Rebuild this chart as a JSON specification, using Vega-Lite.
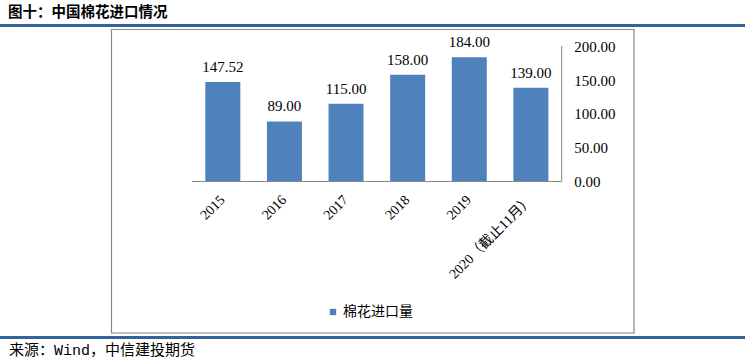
{
  "$schema": "https://vega.github.io/schema/vega-lite/v6.json",
  "width": 745,
  "height": 361,
  "padding": 0,
  "autosize": {"type": "none"},
  "background": "white",
  "config": {"view": {"stroke": null}, "font": "Liberation Serif"},
  "data": {
    "values": [
      {"year": "2015", "value": 147.52, "series": "棉花进口量"},
      {"year": "2016", "value": 89.0, "series": "棉花进口量"},
      {"year": "2017", "value": 115.0, "series": "棉花进口量"},
      {"year": "2018", "value": 158.0, "series": "棉花进口量"},
      {"year": "2019", "value": 184.0, "series": "棉花进口量"},
      {"year": "2020（截止11月）", "value": 139.0, "series": "棉花进口量"}
    ]
  },
  "resolve": {"scale": {"x": "independent", "y": "independent"}},
  "layer": [
    {
      "mark": {"type": "bar"},
      "encoding": {
        "x": {
          "field": "year", "type": "nominal", "sort": null,
          "scale": {"range": [192, 561.7], "paddingInner": 0.4318, "paddingOuter": 0.2159},
          "axis": {"orient": "bottom", "offset": -179.5, "labelAngle": -45, "labelOffset": -5, "domain": false, "ticks": false, "grid": false, "title": null, "labelFont": "Liberation Serif, Noto Sans CJK SC", "labelFontSize": 14, "labelColor": "#000", "labelPadding": 11, "labelLimit": 300}
        },
        "y": {
          "field": "value", "type": "quantitative",
          "scale": {"domain": [-265.93, 268.89], "nice": false, "zero": false},
          "axis": {"orient": "right", "offset": -183.3, "values": [0, 50, 100, 150, 200], "format": ".2f", "domain": false, "ticks": false, "grid": false, "title": null, "labelPadding": 12, "labelAlign": "left", "labelFont": "Liberation Serif", "labelFontSize": 15, "labelColor": "#000", "zindex": 2}
        },
        "y2": {"datum": 0},
        "color": {
          "field": "series", "type": "nominal",
          "scale": {"range": ["#4f81bd"]},
          "legend": {"orient": "none", "legendX": 326, "legendY": 305, "title": null, "symbolType": "square", "symbolSize": 40, "symbolStrokeWidth": 0, "labelFont": "Noto Sans CJK SC", "labelFontSize": 14, "labelColor": "#000", "labelOffset": 3}
        }
      }
    },
    {
      "mark": {"type": "text", "baseline": "bottom", "dy": -7, "font": "Liberation Serif", "fontSize": 15, "color": "#000"},
      "encoding": {
        "x": {"field": "year", "type": "nominal", "sort": null, "scale": {"range": [192, 561.7], "paddingInner": 0.4318, "paddingOuter": 0.2159}, "axis": null},
        "y": {"field": "value", "type": "quantitative", "scale": {"domain": [-265.93, 268.89], "nice": false, "zero": false}, "axis": null},
        "text": {"field": "value", "type": "quantitative", "format": ".2f"}
      }
    },
    {
      "data": {"values": [{}]},
      "mark": {"type": "rect", "filled": false, "stroke": "#888888", "strokeWidth": 1.2},
      "encoding": {
        "x": {"datum": 0.14966, "type": "quantitative", "scale": {"domain": [0, 1], "nice": false, "zero": false}, "axis": null},
        "x2": {"datum": 0.85101},
        "y": {"datum": 225.19, "type": "quantitative", "scale": {"domain": [-265.93, 268.89], "nice": false, "zero": false}, "axis": null},
        "y2": {"datum": -224.44}
      }
    },
    {
      "data": {"values": [{}]},
      "mark": {"type": "rule", "color": "#888888", "strokeWidth": 1},
      "encoding": {
        "x": {"datum": 0.2577, "type": "quantitative", "scale": {"domain": [0, 1], "nice": false, "zero": false}, "axis": null},
        "x2": {"datum": 0.75396},
        "y": {"datum": 0, "type": "quantitative", "scale": {"domain": [-265.93, 268.89], "nice": false, "zero": false}, "axis": null}
      }
    },
    {
      "data": {"values": [{}]},
      "mark": {"type": "rule", "color": "#888888", "strokeWidth": 1},
      "encoding": {
        "x": {"datum": 0.75396, "type": "quantitative", "scale": {"domain": [0, 1], "nice": false, "zero": false}, "axis": null},
        "y": {"datum": 0, "type": "quantitative", "scale": {"domain": [-265.93, 268.89], "nice": false, "zero": false}, "axis": null},
        "y2": {"datum": 200.7}
      }
    },
    {
      "data": {"values": [{}]},
      "mark": {"type": "rule", "color": "#34639a", "strokeWidth": 3},
      "encoding": {
        "x": {"datum": 0, "type": "quantitative", "scale": {"domain": [0, 1], "nice": false, "zero": false}, "axis": null},
        "x2": {"datum": 1},
        "y": {"datum": 231.11, "type": "quantitative", "scale": {"domain": [-265.93, 268.89], "nice": false, "zero": false}, "axis": null}
      }
    },
    {
      "data": {"values": [{}]},
      "mark": {"type": "rule", "color": "#34639a", "strokeWidth": 3},
      "encoding": {
        "x": {"datum": 0, "type": "quantitative", "scale": {"domain": [0, 1], "nice": false, "zero": false}, "axis": null},
        "x2": {"datum": 1},
        "y": {"datum": -231.11, "type": "quantitative", "scale": {"domain": [-265.93, 268.89], "nice": false, "zero": false}, "axis": null}
      }
    },
    {
      "data": {"values": [{}]},
      "mark": {"type": "text", "align": "left", "baseline": "middle", "font": "Noto Sans CJK SC", "fontSize": 14.5, "fontWeight": "bold", "color": "#000"},
      "encoding": {
        "x": {"datum": 0.0107, "type": "quantitative", "scale": {"domain": [0, 1], "nice": false, "zero": false}, "axis": null},
        "y": {"datum": 250.37, "type": "quantitative", "scale": {"domain": [-265.93, 268.89], "nice": false, "zero": false}, "axis": null},
        "text": {"value": "图十：中国棉花进口情况"}
      }
    },
    {
      "data": {"values": [{}]},
      "mark": {"type": "text", "align": "left", "baseline": "middle", "font": "Liberation Mono, Noto Sans CJK SC", "fontSize": 15, "color": "#000"},
      "encoding": {
        "x": {"datum": 0.0121, "type": "quantitative", "scale": {"domain": [0, 1], "nice": false, "zero": false}, "axis": null},
        "y": {"datum": -249.63, "type": "quantitative", "scale": {"domain": [-265.93, 268.89], "nice": false, "zero": false}, "axis": null},
        "text": {"value": "来源：Wind，中信建投期货"}
      }
    }
  ]
}
